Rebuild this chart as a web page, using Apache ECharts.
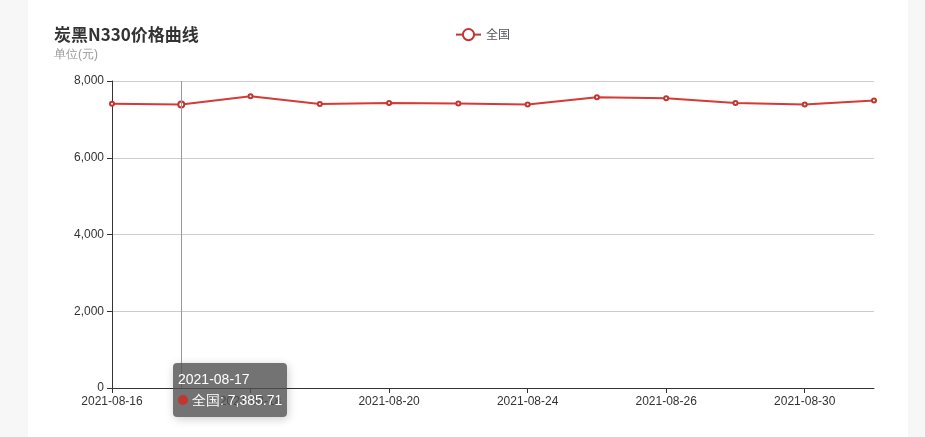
<!DOCTYPE html><html><head><meta charset="utf-8"><script src="https://cdn.jsdelivr.net/npm/echarts@6/dist/echarts.min.js"></script>
<style>html,body{margin:0;background:#f7f7f7;}#c{position:absolute;left:28px;top:0;width:880px;height:437px;background:#fff;}</style></head><body><div id="c"></div><script>
const categories=['2021-08-16','2021-08-17','2021-08-18','2021-08-19','2021-08-20','2021-08-23','2021-08-24','2021-08-25','2021-08-26','2021-08-27','2021-08-30','2021-08-31'];
const values=[7410,7385.71,7600,7398,7424,7411,7386,7578,7552,7424,7386,7490];
const yTicks=[0,2000,4000,6000,8000];
const ch=echarts.init(document.getElementById('c'));
ch.setOption({
 title:{text:'炭黑N330价格曲线',subtext:'单位(元)',left:21,top:21,textStyle:{fontSize:17,fontWeight:'bold',color:'#333',fontFamily:'Noto Sans CJK SC'},subtextStyle:{color:'#999',fontSize:12},itemGap:6},
 legend:{data:['全国'],top:23,left:422,textStyle:{fontFamily:'Noto Sans CJK SC'}},
 tooltip:{trigger:'axis',position:[145,363],padding:[6,5],backgroundColor:'rgba(80,80,80,0.8)',borderWidth:0,textStyle:{color:'#fff',fontSize:14},
   axisPointer:{type:'line',lineStyle:{type:'solid',color:'#999',width:1}},
   formatter:p=>p[0].axisValue+'<br/>'+p[0].marker+p[0].seriesName+': '+p[0].value.toLocaleString('en-US',{minimumFractionDigits:2})},
 grid:{left:84,right:34,top:81,bottom:49},
 xAxis:{type:'category',data:categories,boundaryGap:false,axisLine:{lineStyle:{color:'#333'}},axisTick:{alignWithLabel:true},axisLabel:{interval:1,color:'#333'}},
 yAxis:{type:'value',min:yTicks[0],max:yTicks[yTicks.length-1],interval:2000,axisLine:{show:true,lineStyle:{color:'#333'}},axisTick:{show:true},axisLabel:{color:'#333',formatter:v=>v.toLocaleString('en-US')},splitLine:{lineStyle:{color:'#ccc'}}},
 series:[{name:'全国',type:'line',data:values,color:'#c23531',symbol:'emptyCircle',symbolSize:4,lineStyle:{width:2}}]
});
setTimeout(()=>ch.dispatchAction({type:'showTip',seriesIndex:0,dataIndex:1}),100);
</script></body></html>
